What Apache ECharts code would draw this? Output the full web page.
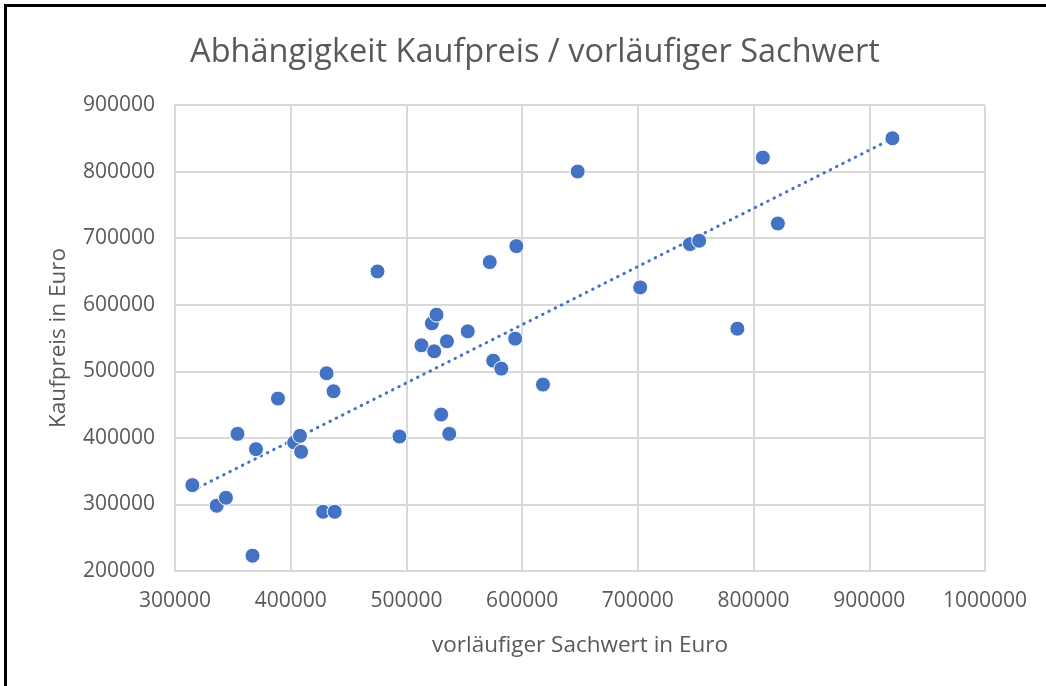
<!DOCTYPE html>
<html>
<head>
<meta charset="utf-8">
<title>Abhängigkeit Kaufpreis / vorläufiger Sachwert</title>
<script src="https://cdn.jsdelivr.net/npm/echarts@6/dist/echarts.min.js"></script>
<style>
  html, body { margin: 0; padding: 0; background: #fff; }
  #frame { position: absolute; left: 4px; top: 4px; width: 1042px; height: 682px;
           border-left: 3px solid #000; border-top: 3px solid #000; box-sizing: border-box; }
  #chart { position: absolute; left: 0; top: 0; width: 1046px; height: 686px; }
</style>
</head>
<body>
<div id="chart"></div>
<div id="frame"></div>
<script>
// vorläufiger Sachwert (x) und Kaufpreis (y)
var sachwert = [
  315000, 336000, 344000, 367000, 354000, 370000, 389000, 403000, 408000, 409000,
  428000, 438000, 431000, 437000, 475000, 494000, 513000, 522000, 526000, 524000,
  535000, 553000, 530000, 537000, 572000, 595000, 575000, 582000, 594000, 618000,
  648000, 702000, 745000, 753000, 808000, 821000, 786000, 920000
];
var kaufpreis = [
  329000, 298000, 310000, 223000, 406000, 383000, 459000, 393000, 403000, 379000,
  289000, 289000, 497000, 470000, 650000, 402000, 539000, 572000, 585000, 530000,
  545000, 560000, 435000, 406000, 664000, 688000, 516000, 504000, 549000, 480000,
  800000, 626000, 691000, 696000, 821000, 722000, 564000, 850000
];
var xTicks = [300000, 1000000, 100000];   // min, max, step
var yTicks = [200000, 900000, 100000];

var titleText = 'Abhängigkeit Kaufpreis / vorläufiger Sachwert';
var xName = 'vorläufiger Sachwert in Euro';
var yName = 'Kaufpreis in Euro';

var points = [];
for (var i = 0; i < sachwert.length; i++) {
  points.push([sachwert[i], kaufpreis[i]]);
}

// lineare Trendlinie (kleinste Quadrate)
function trend(xs, ys) {
  var n = xs.length, sx = 0, sy = 0, sxx = 0, sxy = 0;
  for (var i = 0; i < n; i++) {
    sx += xs[i]; sy += ys[i];
    sxx += xs[i] * xs[i]; sxy += xs[i] * ys[i];
  }
  var b = (n * sxy - sx * sy) / (n * sxx - sx * sx);
  var a = (sy - b * sx) / n;
  var x0 = Math.min.apply(null, xs), x1 = Math.max.apply(null, xs);
  return [[x0, a + b * x0], [x1, a + b * x1]];
}
var trendData = trend(sachwert, kaufpreis);

var textColor = '#595959';
var gridColor = '#d9d9d9';
var blue = '#4472C4';
var font = 'Open Sans';

// keine Tausendertrennzeichen wie im Original
function plain(v) { return String(v); }

var chart = echarts.init(document.getElementById('chart'), null, { renderer: 'canvas' });
var option = {
  backgroundColor: '#fff',
  animation: false,
  title: {
    text: titleText,
    left: 530,
    textAlign: 'center',
    top: 31,
    textStyle: { fontFamily: font, fontSize: 32.5, fontWeight: 'normal', color: textColor }
  },
  grid: { left: 175, right: 61, top: 105, bottom: 115 },
  xAxis: {
    type: 'value',
    min: xTicks[0], max: xTicks[1], interval: xTicks[2],
    name: xName,
    nameLocation: 'middle',
    nameGap: 63,
    nameTextStyle: { fontFamily: font, fontSize: 22.5, color: textColor },
    axisLine: { show: true, lineStyle: { color: gridColor, width: 2 } },
    axisTick: { show: false },
    axisLabel: { fontFamily: font, fontSize: 21, color: textColor, margin: 20, formatter: plain },
    splitLine: { show: true, lineStyle: { color: gridColor, width: 2 } }
  },
  yAxis: {
    type: 'value',
    min: yTicks[0], max: yTicks[1], interval: yTicks[2],
    name: yName,
    nameLocation: 'middle',
    nameGap: 105,
    nameTextStyle: { fontFamily: font, fontSize: 22.5, color: textColor },
    axisLine: { show: true, lineStyle: { color: gridColor, width: 2 } },
    axisTick: { show: false },
    axisLabel: { fontFamily: font, fontSize: 21, color: textColor, margin: 20, formatter: plain },
    splitLine: { show: true, lineStyle: { color: gridColor, width: 2 } }
  },
  series: [
    {
      type: 'line',
      data: trendData,
      showSymbol: false,
      silent: true,
      lineStyle: { color: blue, width: 3, type: [0.5, 6.5], cap: 'round' },
      z: 1
    },
    {
      type: 'scatter',
      data: points,
      symbolSize: 15,
      silent: true,
      emphasis: { disabled: true },
      itemStyle: { color: blue, borderColor: '#fff', borderWidth: 1, opacity: 1 },
      z: 2
    }
  ]
};
chart.setOption(option);
</script>
</body>
</html>
